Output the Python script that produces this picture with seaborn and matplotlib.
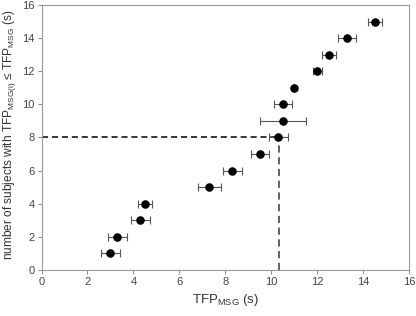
import pandas as pd
import matplotlib
matplotlib.use('Agg')
import matplotlib.pyplot as plt
import seaborn as sns

# cumulative count of subjects vs. TFP_MSG
subjects = [1, 2, 3, 4, 5, 6, 7, 8, 9, 10, 11, 12, 13, 14, 15]
tfp_msg = [3.0, 3.3, 4.3, 4.5, 7.3, 8.3, 9.5, 10.3, 10.5, 10.5, 11.0, 12.0, 12.5, 13.3, 14.5]
tfp_err = [0.4, 0.4, 0.4, 0.3, 0.5, 0.4, 0.4, 0.4, 1.0, 0.4, 0.0, 0.2, 0.3, 0.4, 0.3]

median_x = 10.35
median_y = 8
ticks = [0, 2, 4, 6, 8, 10, 12, 14, 16]

df = pd.DataFrame({'tfp': tfp_msg, 'n': subjects, 'err': tfp_err})

sns.set_style('white')
plt.rcParams['font.family'] = ['Liberation Sans', 'DejaVu Sans']

fig = plt.figure(figsize=(4.16, 3.16), dpi=100)
ax = fig.add_axes([0.0998, 0.146, 0.8842, 0.838])

# dashed guide lines to the median
ax.plot([0, median_x], [median_y, median_y], color='black', ls=(0, (4, 2.5)), lw=1.1, zorder=1)
ax.plot([median_x, median_x], [0, median_y], color='#555555', ls=(0, (4, 2.5)), lw=1.3, zorder=1)

# error bars
ax.errorbar(df['tfp'], df['n'], xerr=df['err'], fmt='none', ecolor='#555555',
            elinewidth=0.8, capsize=3, capthick=0.8, zorder=2)

sns.scatterplot(data=df, x='tfp', y='n', color='black', s=38, edgecolor='black',
                linewidth=0, ax=ax, zorder=3)

ax.set_xlim(0, 16)
ax.set_ylim(0, 16)
ax.set_xticks(ticks)
ax.set_yticks(ticks)
ax.tick_params(axis='both', direction='out', length=3, width=0.6, color='#777777',
               labelsize=8, labelcolor='#444444', pad=2, left=True, bottom=True)
for sp in ax.spines.values():
    sp.set_color('#999999')
    sp.set_linewidth(0.8)

ax.set_xlabel('TFP$_{\\mathregular{MSG}}$ (s)', fontsize=9.5, color='#333333', labelpad=4)
ax.set_ylabel('number of subjects with TFP$_{\\mathregular{MSG(i)}}$ ≤ TFP$_{\\mathregular{MSG}}$ (s)',
              fontsize=8.6, color='#333333')
ax.yaxis.set_label_coords(-0.064, 0.51)

fig.savefig('out.png', dpi=100)
